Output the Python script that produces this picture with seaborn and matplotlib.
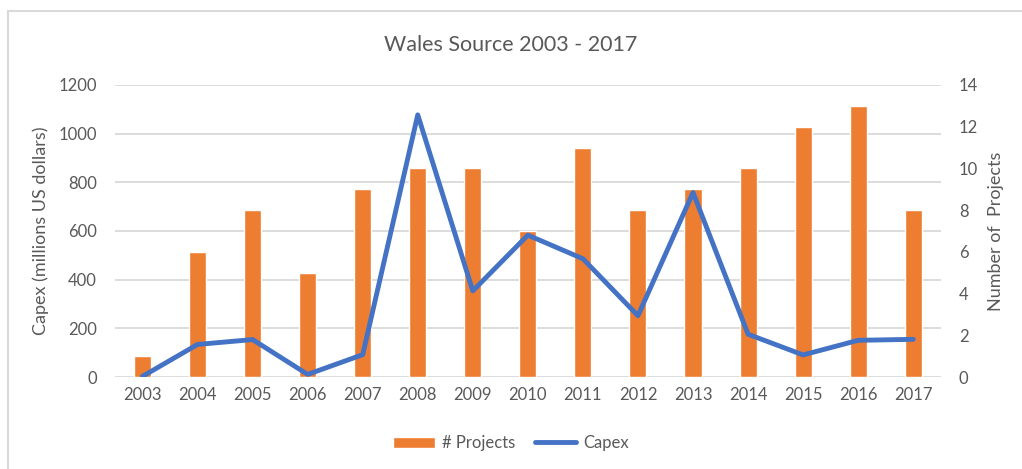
import pandas as pd
import seaborn as sns
import matplotlib.pyplot as plt
from matplotlib.lines import Line2D
from matplotlib.patches import Patch

# данные с графика
years = ['2003', '2004', '2005', '2006', '2007', '2008', '2009', '2010',
         '2011', '2012', '2013', '2014', '2015', '2016', '2017']
projects = [1, 6, 8, 5, 9, 10, 10, 7, 11, 8, 9, 10, 12, 13, 8]
capex = [3, 134, 154, 11, 92, 1077, 354, 583, 486, 252, 758, 176, 91, 151, 155]

df = pd.DataFrame({'year': years, 'projects': projects, 'capex': capex})

sns.set_style('white')
plt.rcParams['font.family'] = ['Lato', 'DejaVu Sans']
grey = '#595959'
orange = '#ED7D31'
blue = '#4472C4'

fig = plt.figure(figsize=(10.22, 4.69), dpi=100)
ax = fig.add_axes([0.1125, 0.196, 0.808, 0.623])
ax2 = ax.twinx()

# столбцы - количество проектов (правая ось)
sns.barplot(data=df, x='year', y='projects', color=orange, width=0.31,
            saturation=1, ax=ax2)
# линия - capex (левая ось)
sns.pointplot(data=df, x='year', y='capex', color=blue, markers='',
              linewidth=3.5, errorbar=None, ax=ax)

ax.set_zorder(ax2.get_zorder() + 1)
ax.patch.set_visible(False)

ax.set_ylim(0, 1200)
ax.set_yticks(range(0, 1201, 200))
ax2.set_ylim(0, 14)
ax2.set_yticks(range(0, 15, 2))
ax.set_xlim(-0.5, len(years) - 0.5)

# сетка только от левой оси, рисуем её на ax2 чтобы она была под столбцами
for v in range(0, 1201, 200):
    ax2.axhline(v / 1200 * 14, color='#D9D9D9', lw=1.3, zorder=0)

for a in (ax, ax2):
    for s in a.spines.values():
        s.set_visible(False)
    a.tick_params(length=0, colors=grey, labelsize=12)
ax.tick_params(axis='x', pad=7)
ax.tick_params(axis='y', pad=13)
ax2.tick_params(axis='y', pad=13)

ax.set_xlabel('')
ax2.set_xlabel('')
ax.set_ylabel('Capex (millions US dollars)', color=grey, fontsize=13, labelpad=7)
ax2.set_ylabel('Number of  Projects', color=grey, fontsize=13, labelpad=7)

fig.text(0.5, 0.905, 'Wales Source 2003 - 2017', ha='center', va='center',
         color=grey, fontsize=15.5)

handles = [Patch(facecolor=orange, label='# Projects'),
           Line2D([0], [0], color=blue, lw=3.5, label='Capex')]
fig.legend(handles=handles, loc='center', bbox_to_anchor=(0.5, 0.055), ncol=2,
           frameon=False, fontsize=12, labelcolor=grey, handlelength=2.5,
           columnspacing=1.2, handletextpad=0.4)

# рамка диаграммы
fig.add_artist(Line2D([8 / 1022, 8 / 1022], [0, 1 - 11 / 469], color='#D9D9D9', lw=1.5))
fig.add_artist(Line2D([8 / 1022, 1], [1 - 11 / 469, 1 - 11 / 469], color='#D9D9D9', lw=1.5))

fig.savefig('out.png', dpi=100)
